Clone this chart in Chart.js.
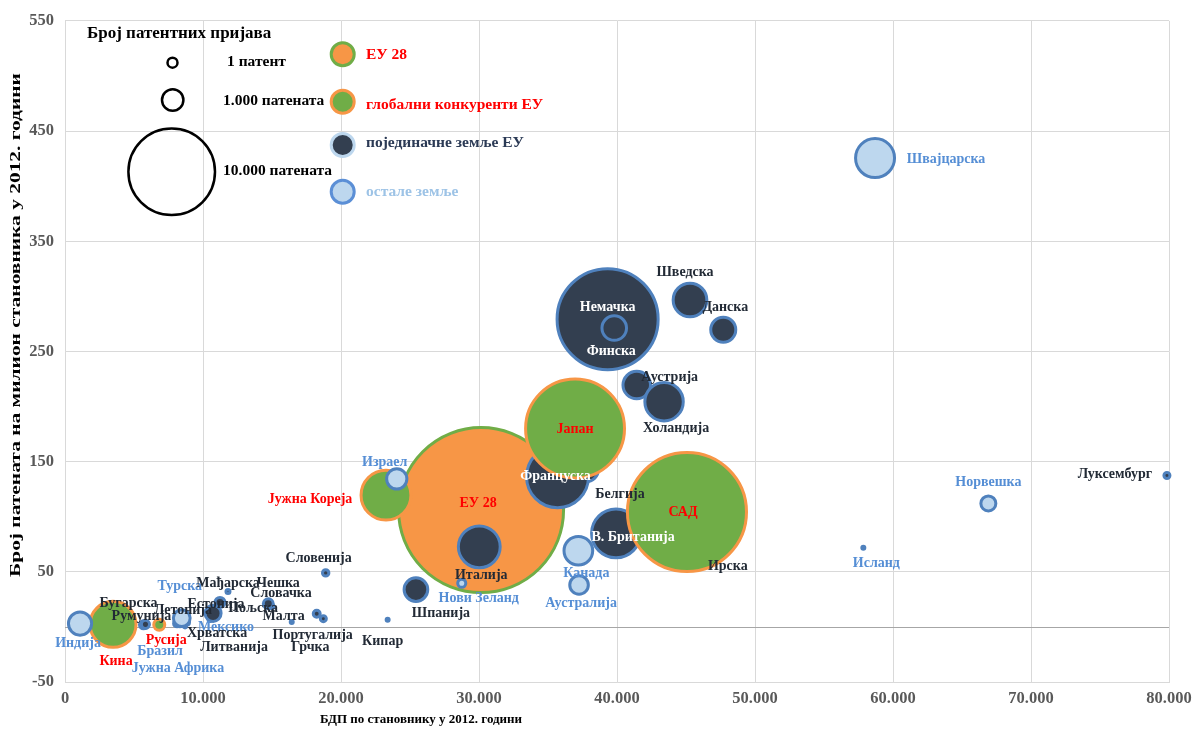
<!DOCTYPE html>
<html>
<head>
<meta charset="utf-8">
<script src="https://cdn.jsdelivr.net/npm/chart.js@4.4.1/dist/chart.umd.min.js"></script>
<style>
  html, body { margin: 0; padding: 0; background: #fff; }
  #chart { display: block; }
</style>
</head>
<body>
<canvas id="chart" width="1193" height="731"></canvas>
<script>
// --- data ---
// x: GDP per capita 2012, y: patents per million inhabitants 2012, patents: bubble size
const eu28Names = ["ЕУ 28"];
const eu28Gdp = [30150];
const eu28PerMillion = [106];
const eu28Patents = [57600];

const euNames = [
  "Немачка", "Финска", "Шведска", "Данска", "Аустрија", "Холандија",
  "Белгија", "Француска", "В. Британија", "Ирска", "Италија", "Шпанија",
  "Словенија", "Кипар", "Португалија", "Грчка", "Малта", "Словачка",
  "Чешка", "Мађарска", "Литванија", "Пољска", "Естонија", "Летонија",
  "Хрватска", "Бугарска", "Румунија", "Луксембург",
];
const euGdp = [
  39320, 39800, 45290, 47700, 41430, 43410,
  37750, 35690, 39930, 46000, 30020, 25430,
  18890, 23380, 18240, 18720, 16430, 15000,
  14730, 11810, 10510, 10730, 11230, 8620,
  8700, 5690, 5830, 79850,
];
const euPerMillion = [
  279.3, 271.2, 296.7, 269.7, 219.5, 204.4,
  143.1, 136.3, 84.9, 70.0, 72.7, 33.9,
  49.0, 6.6, 12.0, 7.5, 4.4, 18.6,
  21.0, 32.1, 6.8, 12.3, 22.3, 7.7,
  0.5, 1.9, 2.3, 137.4,
];
const euPatents = [
  22100, 1550, 2750, 1600, 1900, 3500,
  1600, 8600, 5500, 350, 4100, 1450,
  180, 50, 200, 165, 50, 100,
  340, 100, 100, 740, 340, 75,
  75, 250, 250, 165,
];

const globalNames = ["Јапан", "САД", "Јужна Кореја", "Кина", "Русија"];
const globalGdp = [36960, 45070, 23260, 3480, 6830];
const globalPerMillion = [180.1, 104.3, 119.6, 2.3, 2.0];
const globalPatents = [21200, 30400, 5700, 4900, 400];

const otherNames = [
  "Швајцарска", "Норвешка", "Исланд", "Израел", "Канада", "Аустралија",
  "Нови Зеланд", "Индија", "Бразил", "Јужна Африка", "Мексико", "Турска",
];
const otherGdp = [58700, 66910, 57850, 24040, 37200, 37250, 28750, 1090, 8120, 8330, 8840, 8460];
const otherPerMillion = [425.5, 112.1, 71.8, 134.3, 69.1, 38.1, 39.6, 3.0, 3.2, 2.3, 4.1, 8.0];
const otherPatents = [3600, 660, 50, 1100, 2050, 950, 250, 1400, 200, 130, 130, 800];

// --- label placement (pixel offsets from bubble centre) ---
const labelOffsets = {
  "ЕУ 28": [-3, -7],
  "Јапан": [0, 1], "САД": [-4, 0], "Јужна Кореја": [-76, 4], "Кина": [3, 37], "Русија": [7, 16],
  "Швајцарска": [71, 1], "Норвешка": [0, -21], "Исланд": [13, 16], "Израел": [-12, -17],
  "Канада": [8, 23], "Аустралија": [2, 18], "Нови Зеланд": [17, 15], "Индија": [-2, 20],
  "Турска": [-2, -32], "Мексико": [39, 5], "Бразил": [-17, 28], "Јужна Африка": [-2, 44],
  "Немачка": [0, -12], "Финска": [-3, 23], "Шведска": [-5, -28], "Данска": [2, -22],
  "Аустрија": [33, -8], "Холандија": [12, 27], "Француска": [-2, 0], "Белгија": [34, 25],
  "В. Британија": [17, 4], "Ирска": [28, 17], "Италија": [2, 29], "Шпанија": [25, 24],
  "Словенија": [-7, -15], "Кипар": [-5, 22], "Португалија": [-4, 22], "Грчка": [-13, 29],
  "Малта": [-8, -6], "Чешка": [10, -20], "Словачка": [9, -13], "Мађарска": [0, -8],
  "Естонија": [-4, 2], "Пољска": [40, -5], "Летонија": [-1, -8], "Литванија": [24, 28],
  "Хрватска": [32, 7], "Бугарска": [-15, -21], "Румунија": [-4, -8], "Луксембург": [-52, -1],
};
const whiteLabels = ["Немачка", "Финска", "Француска", "В. Британија"];

// --- styles ---
const FONT = "'Liberation Serif', 'Times New Roman', serif";
const BLUE_EDGE = "#4F81BD";
const NAVY = "#333F50";
const ORANGE = "#F79646";
const GREEN = "#70AD47";
const LIGHT_BLUE = "#BDD7EE";
const SIZE_K = 0.35; // px per sqrt(patent)

function radiusFor(n) {
  return Math.max(1.5, SIZE_K * Math.sqrt(n) - 1.5);
}

function toPoints(names, gdp, per, pats) {
  return names.map((name, i) => ({ x: gdp[i], y: per[i], r: radiusFor(pats[i]), name }));
}

// --- plugins ---
const zeroLine = {
  id: "zeroLine",
  beforeDatasetsDraw(chart) {
    const { ctx, chartArea, scales } = chart;
    const y = Math.round(scales.y.getPixelForValue(0)) + 0.5;
    ctx.save();
    ctx.strokeStyle = "#A6A6A6";
    ctx.lineWidth = 1;
    ctx.beginPath();
    ctx.moveTo(chartArea.left, y);
    ctx.lineTo(chartArea.right, y);
    ctx.stroke();
    ctx.restore();
  },
};

const pointLabels = {
  id: "pointLabels",
  afterDatasetsDraw(chart) {
    const ctx = chart.ctx;
    ctx.save();
    ctx.font = "bold 14px " + FONT;
    ctx.textAlign = "center";
    ctx.textBaseline = "middle";
    chart.data.datasets.forEach((ds, di) => {
      const meta = chart.getDatasetMeta(di);
      meta.data.forEach((el, i) => {
        const name = ds.data[i].name;
        const off = labelOffsets[name] || [0, 0];
        ctx.fillStyle = whiteLabels.includes(name) ? "#FFFFFF" : ds.labelColor;
        ctx.fillText(name, el.x + off[0], el.y + off[1]);
      });
    });
    ctx.restore();
  },
};

function circle(ctx, x, y, r, fill, stroke, lw) {
  ctx.beginPath();
  ctx.arc(x, y, r, 0, Math.PI * 2);
  if (fill) { ctx.fillStyle = fill; ctx.fill(); }
  ctx.lineWidth = lw;
  ctx.strokeStyle = stroke;
  ctx.stroke();
}

const legendBox = {
  id: "legendBox",
  afterDatasetsDraw(chart) {
    const ctx = chart.ctx;
    ctx.save();
    ctx.textBaseline = "middle";
    ctx.textAlign = "left";
    ctx.fillStyle = "#000";
    ctx.font = "bold 17px " + FONT;
    ctx.fillText("Број патентних пријава", 87, 34);

    // size key
    circle(ctx, 172.5, 62.7, 5, null, "#000", 2.5);
    circle(ctx, 172.7, 100, 10.7, null, "#000", 2.5);
    circle(ctx, 171.7, 171.7, 43.3, null, "#000", 2.5);
    ctx.font = "bold 15.5px " + FONT;
    ctx.fillStyle = "#000";
    ctx.fillText("1 патент", 227, 62);
    ctx.fillText("1.000 патената", 223, 101);
    ctx.fillText("10.000 патената", 223, 171);

    // colour key
    circle(ctx, 342.7, 54.3, 11.5, ORANGE, GREEN, 3);
    circle(ctx, 342.7, 101.7, 11.5, GREEN, ORANGE, 3);
    circle(ctx, 342.7, 145, 11.5, NAVY, LIGHT_BLUE, 3);
    circle(ctx, 342.7, 191.7, 11.5, LIGHT_BLUE, "#5B8FD6", 3);
    ctx.fillStyle = "#FF0000";
    ctx.fillText("ЕУ 28", 366, 55);
    ctx.fillText("глобални конкуренти ЕУ", 366, 105);
    ctx.fillStyle = "#2B3A55";
    ctx.fillText("појединачне земље ЕУ", 366, 143);
    ctx.fillStyle = "#9DC3E6";
    ctx.fillText("остале земље", 366, 192);
    ctx.restore();
  },
};

const axisTitles = {
  id: "axisTitles",
  afterDraw(chart) {
    const ctx = chart.ctx;
    ctx.save();
    ctx.fillStyle = "#000";
    ctx.font = "bold 13px " + FONT;
    ctx.textAlign = "center";
    ctx.textBaseline = "middle";
    ctx.fillText("БДП по становнику у 2012. години", 421, 720);
    ctx.font = "bold 14px " + FONT;
    ctx.translate(16, 325);
    ctx.rotate(-Math.PI / 2);
    ctx.scale(1.53, 1);
    ctx.fillText("Број патената на милион становника у 2012. години", 0, 0);
    ctx.restore();
  },
};

// --- chart ---
const tickFont = { family: FONT, size: 16.5, weight: "bold" };

new Chart(document.getElementById("chart"), {
  type: "bubble",
  data: {
    datasets: [
      {
        label: "остале земље",
        data: toPoints(otherNames, otherGdp, otherPerMillion, otherPatents),
        backgroundColor: LIGHT_BLUE,
        borderColor: BLUE_EDGE,
        borderWidth: 3,
        labelColor: "#558ED5",
        order: 0,
        clip: false,
      },
      {
        label: "глобални конкуренти ЕУ",
        data: toPoints(globalNames, globalGdp, globalPerMillion, globalPatents),
        backgroundColor: GREEN,
        borderColor: ORANGE,
        borderWidth: 3,
        labelColor: "#FF0000",
        order: 1,
        clip: false,
      },
      {
        label: "појединачне земље ЕУ",
        data: toPoints(euNames, euGdp, euPerMillion, euPatents),
        backgroundColor: NAVY,
        borderColor: BLUE_EDGE,
        borderWidth: 3,
        labelColor: "#222A35",
        order: 2,
        clip: false,
      },
      {
        label: "ЕУ 28",
        data: toPoints(eu28Names, eu28Gdp, eu28PerMillion, eu28Patents),
        backgroundColor: ORANGE,
        borderColor: GREEN,
        borderWidth: 3,
        labelColor: "#FF0000",
        order: 3,
        clip: false,
      },
    ],
  },
  options: {
    responsive: false,
    animation: false,
    devicePixelRatio: 1,
    layout: { autoPadding: false, padding: { top: 17, right: 24, left: 0, bottom: 0 } },
    plugins: {
      legend: { display: false },
      tooltip: { enabled: false },
    },
    elements: { point: { hoverRadius: 0 } },
    scales: {
      x: {
        type: "linear",
        min: 0,
        max: 80000,
        ticks: {
          stepSize: 10000,
          color: "#595959",
          font: tickFont,
          padding: 7,
          maxRotation: 0,
          callback: (v) => v.toLocaleString("de-DE"),
        },
        grid: { color: "#D9D9D9", drawTicks: false },
        border: { color: "#D9D9D9" },
        afterFit: (scale) => {
          scale.height = 49;
          scale.paddingLeft = 0;
          scale.paddingRight = 0;
        },
      },
      y: {
        min: -50,
        max: 550,
        ticks: {
          stepSize: 100,
          color: "#595959",
          font: tickFont,
          padding: 11,
        },
        grid: { color: "#D9D9D9", drawTicks: false },
        border: { color: "#D9D9D9" },
        afterFit: (scale) => { scale.width = 65; },
      },
    },
  },
  plugins: [zeroLine, pointLabels, legendBox, axisTitles],
});
</script>
</body>
</html>
